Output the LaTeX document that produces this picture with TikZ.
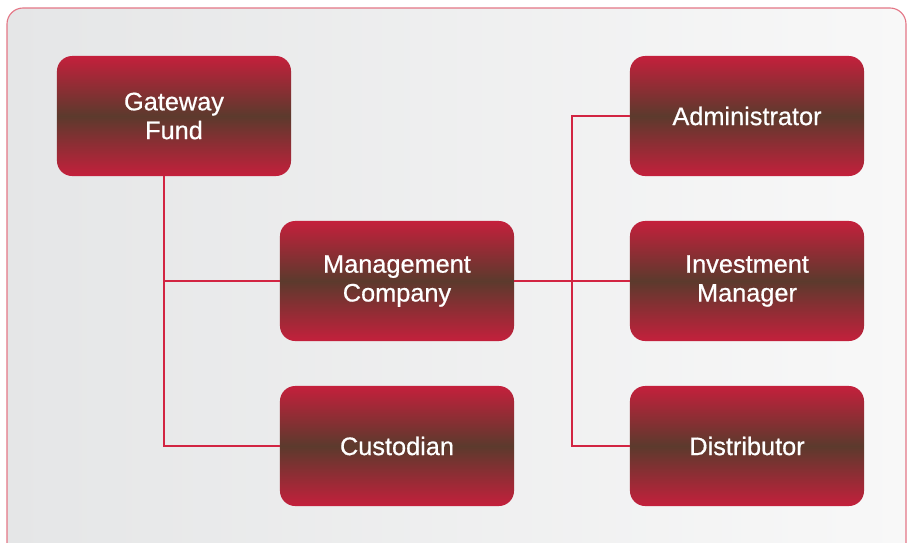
\documentclass[tikz,border=0pt]{standalone}
\usepackage{fontspec}
\usepackage{tikz}
\newfontfamily\boxfont[FakeBold=0.6]{Liberation Sans}

\definecolor{boxred}{HTML}{C4203C}
\definecolor{boxbrown}{HTML}{5C3A2D}
\definecolor{linkred}{HTML}{D22442}
\definecolor{framered}{HTML}{E47686}
\definecolor{paneleft}{HTML}{E5E6E7}
\definecolor{paneright}{HTML}{F8F8F8}

\tikzset{
    entity/.style = {rounded corners = 0.38cm, minimum width = 5.85cm,
        minimum height = 3cm, align = center, text = white,
        top color = boxred, bottom color = boxred, middle color = boxbrown,
        font = \boxfont\fontsize{18}{20.5}\selectfont},
    link/.style = {draw = linkred, line width = 1.3pt}
}

\begin{document}
\begin{tikzpicture}[x = 0.025cm, y = -0.025cm]
    \useasboundingbox (0,0) rectangle (908,542);
    \clip (0,0) rectangle (908,542);
    % panel behind the chart
    \draw[framered, line width = 0.8pt, rounded corners = 0.4cm,
        left color = paneleft, right color = paneright] (7,8) rectangle (906,590);

    \node[entity] (gw) at (174,116) {Gateway\\Fund};
    \node[entity] (mc) at (397,281) {Management\\Company};
    \node[entity] (cu) at (397,446) {Custodian};
    \node[entity] (ad) at (747,116) {Administrator};
    \node[entity] (im) at (747,281) {Investment\\Manager};
    \node[entity] (di) at (747,446) {Distributor};

    \coordinate (left bus) at (164,281);
    \coordinate (right bus) at (572,281);

    \draw[link] (gw.south -| left bus) -- (cu.west -| left bus) -- (cu.west);
    \draw[link] (left bus) -- (mc.west);
    \draw[link] (mc.east) -- (im.west);
    \draw[link] (ad.west) -- (ad.west -| right bus) -- (di.west -| right bus) -- (di.west);
\end{tikzpicture}
\end{document}
